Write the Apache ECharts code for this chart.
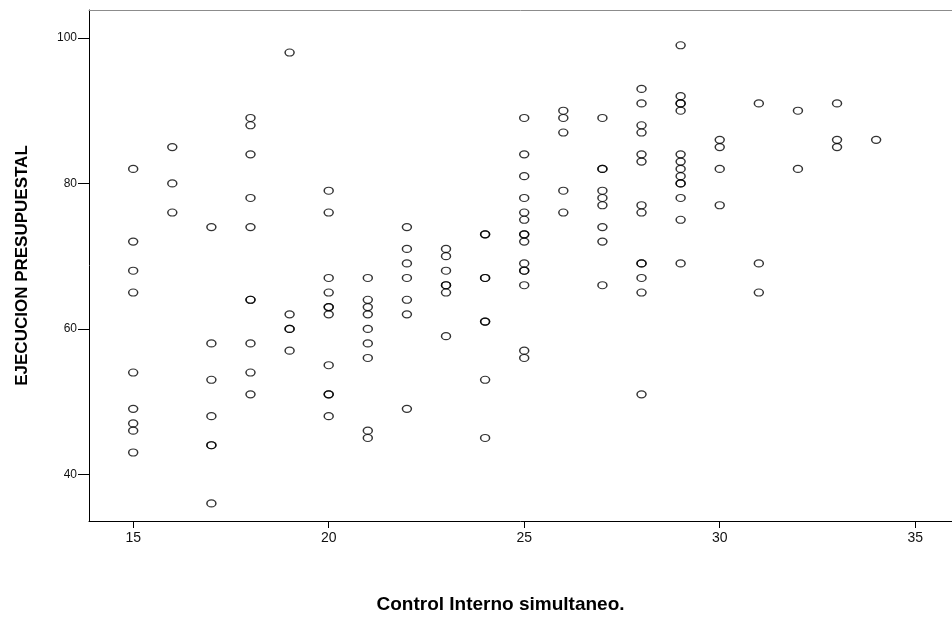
<!DOCTYPE html>
<html>
<head>
<meta charset="utf-8">
<script src="https://cdn.jsdelivr.net/npm/echarts@6/dist/echarts.min.js"></script>
<style>html,body{margin:0;padding:0;background:#fff;}#chart{width:952px;height:635px;}</style>
</head>
<body>
<div id="chart"></div>
<script>
// Control Interno simultaneo (x) -> list of EJECUCION PRESUPUESTAL values (y)
var xValues = [15,16,17,18,19,20,21,22,23,24,25,26,27,28,29,30,31,32,33,34];
var yByX = [
  [82,72,68,65,54,49,47,46,43],
  [85,80,76],
  [74,58,53,48,44,44,36],
  [89,88,84,78,74,64,64,58,54,51],
  [98,62,60,60,57],
  [79,76,67,65,63,63,62,55,51,51,48],
  [67,64,63,62,60,58,56,46,45],
  [74,71,69,67,64,62,49],
  [71,70,68,66,66,65,59],
  [73,73,67,67,61,61,53,45],
  [89,84,81,78,76,75,73,73,72,69,68,68,66,57,56],
  [90,89,87,79,76],
  [89,82,82,79,78,77,74,72,66],
  [93,91,88,87,84,83,77,76,69,69,67,65,51],
  [99,92,91,91,90,84,83,82,81,80,80,78,75,69],
  [86,85,82,77],
  [91,69,65],
  [90,82],
  [91,86,85],
  [86]
];
var xTicks = [15,20,25,30,35];
var yTicks = [40,60,80,100];
var xTitle = 'Control Interno simultaneo.';
var yTitle = 'EJECUCION PRESUPUESTAL';

var points = [];
xValues.forEach(function(x, i){ yByX[i].forEach(function(y){ points.push([x, y]); }); });

var xMin = 13.87, xMax = 35.94;
var chart = echarts.init(document.getElementById('chart'), null, {renderer:'canvas'});
chart.setOption({
  backgroundColor: '#ffffff',
  animation: false,
  grid: {left: 89, top: 10, right: 0, bottom: 114, show: false},
  xAxis: [{
    type: 'value', min: xMin, max: xMax,
    name: xTitle, nameLocation: 'middle', nameGap: 74,
    nameTextStyle: {fontFamily: 'Liberation Sans', fontWeight: 'bold', fontSize: 19, color: '#000', padding: [0, 40, 0, 0]},
    axisLine: {show: true, onZero: false, lineStyle: {color: '#000', width: 1}},
    axisTick: {show: true, length: 7, customValues: xTicks, lineStyle: {color: '#000'}},
    axisLabel: {customValues: xTicks, color: '#111', fontFamily: 'Liberation Sans', fontSize: 14, margin: 10},
    splitLine: {show: false}
  }, {
    type: 'value', position: 'top', min: xMin, max: xMax,
    axisLine: {show: true, onZero: false, lineStyle: {color: '#8c8c8c', width: 1}},
    axisTick: {show: false}, axisLabel: {show: false}, splitLine: {show: false}
  }],
  yAxis: {
    type: 'value', min: 33.58, max: 103.85,
    name: yTitle, nameLocation: 'middle', nameGap: 58, nameRotate: 90,
    nameTextStyle: {fontFamily: 'Liberation Sans', fontWeight: 'bold', fontSize: 17, color: '#000'},
    axisLine: {show: true, onZero: false, lineStyle: {color: '#000', width: 1}},
    axisTick: {show: true, length: 11, customValues: yTicks, lineStyle: {color: '#000'}},
    axisLabel: {customValues: yTicks, color: '#111', fontFamily: 'Liberation Sans', fontSize: 12, margin: 12},
    splitLine: {show: false}
  },
  series: [{
    type: 'scatter',
    xAxisIndex: 0,
    data: points,
    symbol: 'circle',
    symbolSize: [9, 7],
    itemStyle: {color: 'rgba(255,255,255,0)', borderColor: '#000', borderWidth: 1.3},
    silent: true
  }]
});
</script>
</body>
</html>
